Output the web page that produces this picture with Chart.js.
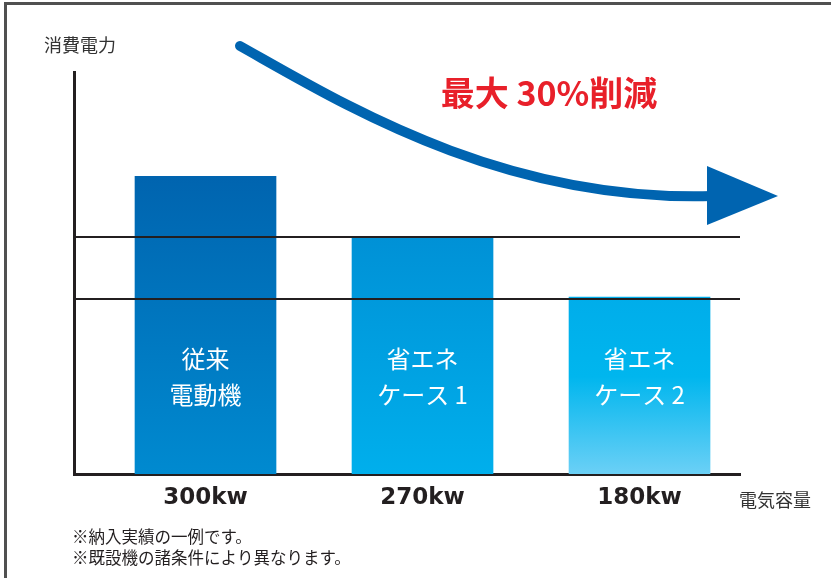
<!DOCTYPE html>
<html>
<head>
<meta charset="utf-8">
<script src="https://cdn.jsdelivr.net/npm/chart.js@4.4.1/dist/chart.umd.min.js"></script>
<style>
html, body { margin: 0; padding: 0; background: #fff; }
#wrap { position: relative; width: 831px; height: 578px; overflow: hidden; }
#frame { position: absolute; left: 4px; top: 2px; right: -10px; bottom: -10px;
	border-top: 3px solid #505050; border-left: 3px solid #505050; pointer-events: none; }
canvas { display: block; }
</style>
</head>
<body>
<div id="wrap">
	<canvas id="myChart" width="831" height="578"></canvas>
	<div id="frame"></div>
</div>
<script>
// data
var capacities = ['300kw', '270kw', '180kw'];
var barNames = [['従来', '電動機'], ['省エネ', 'ケース 1'], ['省エネ', 'ケース 2']];
var power = [100, 79.6, 59.4];
var refLines = [58.8, 79.6];
var notes = ['※納入実績の一例です。', '※既設機の諸条件により異なります。'];

// gradient stops per bar (top -> bottom)
var barColors = [
	[[0, '#0064AF'], [1, '#008AD0']],
	[[0, '#0091D6'], [1, '#00AFEC']],
	[[0, '#00ADEA'], [0.45, '#00B6EE'], [1, '#6BD0F6']]
];

var jp = '"Noto Sans CJK JP", "Noto Sans", sans-serif';

function barGradient(ctx) {
	var chart = ctx.chart;
	if (!chart.chartArea || ctx.dataIndex === undefined) return barColors[0][0][1];
	var y = chart.scales.y;
	var top = y.getPixelForValue(power[ctx.dataIndex]);
	var bottom = y.getPixelForValue(0);
	var g = chart.ctx.createLinearGradient(0, top, 0, bottom);
	barColors[ctx.dataIndex].forEach(function (s) { g.addColorStop(s[0], s[1]); });
	return g;
}

var extras = {
	id: 'extras',
	afterDatasetsDraw: function (chart) {
		var c = chart.ctx;
		var meta = chart.getDatasetMeta(0);
		var y = chart.scales.y;
		c.save();
		c.fillStyle = '#ffffff';
		c.font = '24px ' + jp;
		c.textAlign = 'center';
		c.textBaseline = 'middle';
		meta.data.forEach(function (bar, i) {
			var mid = y.getPixelForValue(32.5);
			c.fillText(barNames[i][0], bar.x, mid - 18);
			c.fillText(barNames[i][1], bar.x, mid + 18);
		});
		c.restore();
	},
	afterDraw: function (chart) {
		var c = chart.ctx;
		var area = chart.chartArea;
		c.save();

		// trend arrow
		c.strokeStyle = '#0064B0';
		c.fillStyle = '#0064B0';
		c.lineWidth = 10;
		c.lineCap = 'round';
		c.beginPath();
		c.moveTo(240, 46);
		c.bezierCurveTo(340, 102, 500, 202, 712, 196);
		c.stroke();
		c.beginPath();
		c.moveTo(707, 166);
		c.lineTo(778, 196);
		c.lineTo(707, 225);
		c.closePath();
		c.fill();

		c.fillStyle = '#E8202A';
		c.font = 'bold 34px ' + jp;
		c.textAlign = 'center';
		c.textBaseline = 'middle';
		c.fillText('最大 30%削減', 549, 93);

		// axis titles
		c.fillStyle = '#333333';
		c.font = '18px ' + jp;
		c.textAlign = 'left';
		c.fillText('消費電力', 44, 45);
		c.fillText('電気容量', area.right - 1, 500);

		// footnotes
		c.fillStyle = '#231F20';
		c.font = '16.5px ' + jp;
		notes.forEach(function (t, i) {
			c.fillText(t, 72, 537 + i * 20.5);
		});
		c.restore();
	}
};

var ctx = document.getElementById('myChart').getContext('2d');
var myChart = new Chart(ctx, {
	type: 'bar',
	data: {
		datasets: [{
			data: power.map(function (v, i) { return { x: i, y: v }; }),
			backgroundColor: barGradient,
			borderWidth: 0,
			barThickness: 141
		}]
	},
	options: {
		responsive: false,
		animation: false,
		layout: { padding: { top: 72, right: 91, left: 0, bottom: 0 } },
		plugins: { legend: { display: false }, tooltip: { enabled: false } },
		scales: {
			x: {
				type: 'linear',
				offset: false,
				min: -0.606,
				max: 2.463,
				afterBuildTicks: function (s) {
					s.ticks = capacities.map(function (c, i) { return { value: i }; });
				},
				afterFit: function (s) { s.height = 104; },
				grid: { display: false, drawTicks: false, offset: false },
				border: { display: true, width: 3, color: '#231F20' },
				ticks: {
					autoSkip: false,
					maxRotation: 0,
					padding: 10,
					color: '#231F20',
					font: { family: '"DejaVu Sans", sans-serif', weight: 'bold', size: 23 },
					callback: function (v) { return capacities[v]; }
				}
			},
			y: {
				min: 0,
				max: 135,
				afterBuildTicks: function (s) {
					s.ticks = refLines.map(function (v) { return { value: v }; });
				},
				afterFit: function (s) { s.width = 74; },
				grid: { z: 1, color: '#231F20', lineWidth: 2, drawTicks: false },
				border: { display: true, z: 2, width: 3, color: '#231F20' },
				ticks: { display: false }
			}
		}
	},
	plugins: [extras]
});
</script>
</body>
</html>
